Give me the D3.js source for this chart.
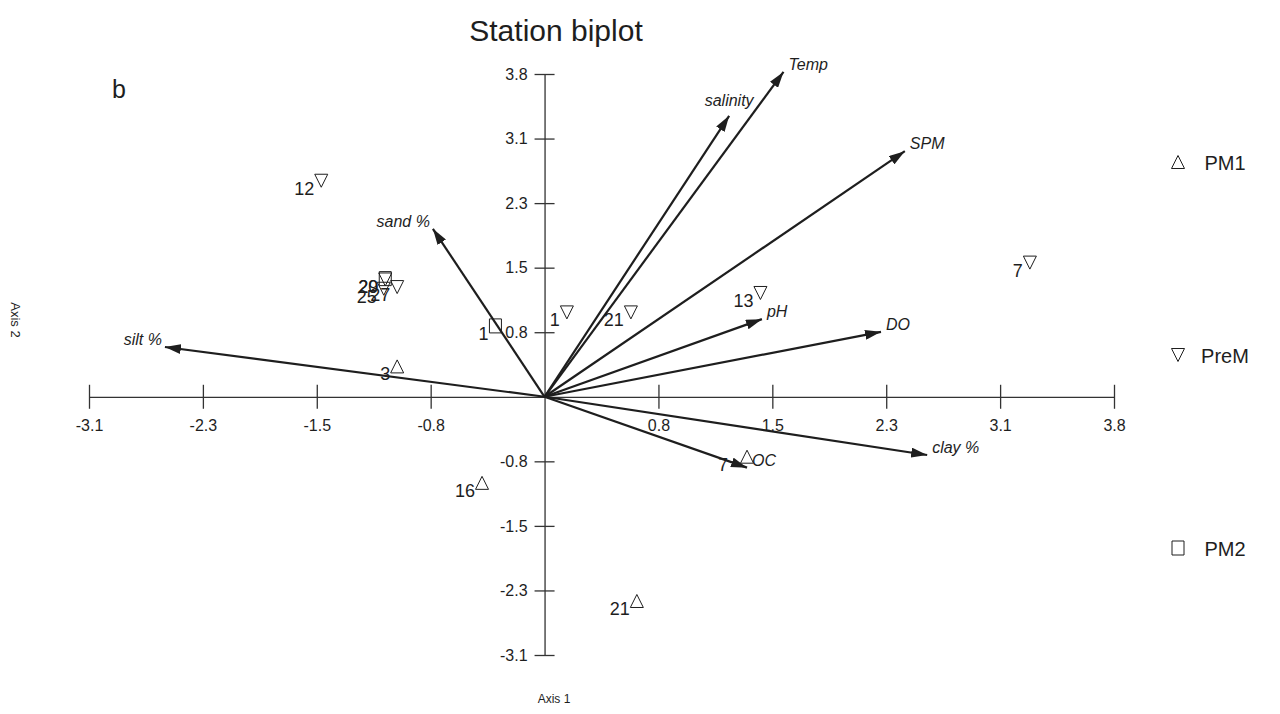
<!DOCTYPE html>
<html>
<head>
<meta charset="utf-8">
<script src="https://cdn.jsdelivr.net/npm/d3@7"></script>
<style>
  html, body { margin: 0; padding: 0; background: #fff; }
  svg { display: block; font-family: "Liberation Sans", Arial, sans-serif; }
</style>
</head>
<body>
<svg id="chart" width="1280" height="714"></svg>
<script>
// ---------- data ----------
const xTickValues = [-3.06, -2.295, -1.53, -0.765, 0.765, 1.53, 2.295, 3.06, 3.825];
const xTickLabels = ["-3.1", "-2.3", "-1.5", "-0.8", "0.8", "1.5", "2.3", "3.1", "3.8"];
const yTickValues = [3.825, 3.06, 2.295, 1.53, 0.765, -0.765, -1.53, -2.295, -3.06];
const yTickLabels = ["3.8", "3.1", "2.3", "1.5", "0.8", "-0.8", "-1.5", "-2.3", "-3.1"];

// environmental vectors
const vectorNames = ["Temp", "salinity", "SPM", "pH", "DO", "clay %", "OC", "silt %", "sand %"];
const vectorX     = [1.605, 1.24, 2.42, 1.46, 2.26, 2.57, 1.36, -2.55, -0.75];
const vectorY     = [3.85, 3.33, 2.91, 0.92, 0.77, -0.69, -0.84, 0.59, 1.99];

// stations
const stationLabels = ["12", "7", "13", "21", "1", "29", "20", "25", "27", "1", "3", "16", "7", "21"];
const stationGroups = ["PreM", "PreM", "PreM", "PreM", "PreM", "PM2", "PreM", "PreM", "PreM", "PM2", "PM1", "PM1", "PM1", "PM1"];
const stationX      = [-1.50, 3.26, 1.45, 0.58, 0.15, -1.07, -1.07, -1.08, -0.99, -0.33, -0.99, -0.42, 1.36, 0.62];
const stationY      = [2.56, 1.59, 1.23, 1.00, 1.00, 1.40, 1.39, 1.28, 1.30, 0.84, 0.36, -1.02, -0.71, -2.42];

const legendGroups = ["PM1", "PreM", "PM2"];

// ---------- drawing ----------
const svg = d3.select("#chart");
const ink = "#1e1e1e";

const x = d3.scaleLinear().domain([-3.06, 3.825]).range([89, 1114]);
const y = d3.scaleLinear().domain([-3.06, 3.825]).range([655, 74]);

// title & labels
svg.append("text").attr("x", 556).attr("y", 41).attr("text-anchor", "middle")
  .attr("font-size", 30).attr("fill", ink).text("Station biplot");
svg.append("text").attr("x", 112).attr("y", 98)
  .attr("font-size", 25).attr("fill", ink).text("b");
svg.append("text").attr("x", 554).attr("y", 703).attr("text-anchor", "middle")
  .attr("font-size", 12).attr("fill", ink).text("Axis 1");
svg.append("text").attr("transform", "translate(11,320) rotate(90)").attr("text-anchor", "middle")
  .attr("font-size", 13).attr("fill", ink).text("Axis 2");

// x axis
const xAxis = svg.append("g").attr("transform", `translate(0,${y(0)})`)
  .call(d3.axisBottom(x).tickValues(xTickValues)
    .tickFormat((d, i) => xTickLabels[i]).tickSize(12).tickSizeOuter(0));
xAxis.select(".domain").attr("stroke", "#333").attr("stroke-width", 1.3);
xAxis.selectAll(".tick line").attr("y1", -12).attr("stroke", "#333").attr("stroke-width", 1.3);
xAxis.selectAll(".tick text").attr("font-size", 16).attr("font-family", "Liberation Sans, Arial")
  .attr("fill", ink).attr("y", 23).attr("dy", "0.71em");

// y axis
const yAxis = svg.append("g").attr("transform", `translate(${x(0)},0)`)
  .call(d3.axisLeft(y).tickValues(yTickValues)
    .tickFormat((d, i) => yTickLabels[i]).tickSize(10).tickSizeOuter(0));
yAxis.select(".domain").attr("stroke", "#333").attr("stroke-width", 1.3);
yAxis.selectAll(".tick line").attr("x1", 10).attr("stroke", "#333").attr("stroke-width", 1.3);
yAxis.selectAll(".tick text").attr("font-size", 16).attr("font-family", "Liberation Sans, Arial")
  .attr("fill", ink).attr("x", -17);

// arrowhead
svg.append("defs").append("marker")
  .attr("id", "arrow").attr("markerUnits", "userSpaceOnUse")
  .attr("viewBox", "0 0 16 10").attr("refX", 16).attr("refY", 5)
  .attr("markerWidth", 16).attr("markerHeight", 10).attr("orient", "auto")
  .append("path").attr("d", "M0,0 L16,5 L0,10 Z").attr("fill", ink);

const vectors = vectorNames.map((n, i) => ({ name: n, vx: vectorX[i], vy: vectorY[i] }));
svg.append("g").selectAll("line").data(vectors).join("line")
  .attr("x1", x(0)).attr("y1", y(0))
  .attr("x2", d => x(d.vx)).attr("y2", d => y(d.vy))
  .attr("stroke", ink).attr("stroke-width", 2.2)
  .attr("marker-end", "url(#arrow)");

svg.append("g").selectAll("text").data(vectors).join("text")
  .attr("x", d => {
    if (d.name === "salinity") return x(d.vx);
    return d.vx < 0 ? x(d.vx) - 3 : x(d.vx) + 5;
  })
  .attr("y", d => d.name === "salinity" ? y(d.vy) - 10 : y(d.vy) - 2)
  .attr("text-anchor", d => d.name === "salinity" ? "middle" : (d.vx < 0 ? "end" : "start"))
  .attr("font-size", 16).attr("font-style", "italic").attr("fill", ink)
  .text(d => d.name);

// station markers
function markerPath(g) {
  if (g === "PM1") return "M0,-6.5 L6.5,6.5 L-6.5,6.5 Z";
  if (g === "PreM") return "M-6.5,-6.5 L6.5,-6.5 L0,6.5 Z";
  return "M-6,-7 L6,-7 L6,7 L-6,7 Z";
}
const stations = stationLabels.map((l, i) => ({ label: l, g: stationGroups[i], sx: stationX[i], sy: stationY[i] }));
// label placement: lower-left of the marker (one label pushed clear of the OC arrow)
const labelShift = d => (d.g === "PM1" && d.label === "7") ? 19 : 7;
const sg = svg.append("g");
sg.selectAll("path").data(stations).join("path")
  .attr("transform", d => `translate(${x(d.sx)},${y(d.sy)})`)
  .attr("d", d => markerPath(d.g))
  .attr("fill", "none").attr("stroke", ink).attr("stroke-width", 1);
sg.selectAll("text").data(stations).join("text")
  .attr("x", d => x(d.sx) - labelShift(d)).attr("y", d => y(d.sy) + 14)
  .attr("text-anchor", "end").attr("font-size", 18).attr("fill", ink)
  .text(d => d.label);

// legend
const legendY = d3.scalePoint().domain(legendGroups).range([162, 548]);
const lg = svg.append("g");
lg.selectAll("path").data(legendGroups).join("path")
  .attr("transform", d => `translate(1178,${legendY(d)})`)
  .attr("d", d => markerPath(d))
  .attr("fill", "none").attr("stroke", ink).attr("stroke-width", 1);
lg.selectAll("text").data(legendGroups).join("text")
  .attr("x", 1225).attr("y", d => legendY(d) + 8).attr("text-anchor", "middle")
  .attr("font-size", 20).attr("fill", ink).text(d => d);
</script>
</body>
</html>
